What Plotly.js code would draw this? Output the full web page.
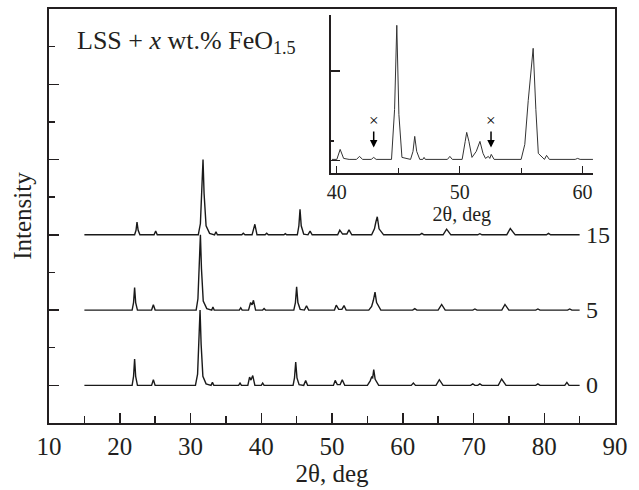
<!DOCTYPE html>
<html>
<head>
<meta charset="utf-8">
<script src="https://cdn.plot.ly/plotly-3.0.1.min.js"></script>
<style>html,body{margin:0;padding:0;background:#fff;}#chart{width:639px;height:490px;}</style>
</head>
<body>
<div id="chart"></div>
<script>
// ---- Main patterns (relative intensity, each normalised to its strongest peak) ----
const curveLabels = ["0", "5", "15"];
const curveOffsets = [0, 1, 2];

const x0 = [15, 21.75, 21.95, 22.1, 22.25, 22.5, 24.5, 24.75, 25.0,
  30.7, 31.0, 31.2, 31.35, 31.5, 31.75, 32.2, 32.9, 33.1, 33.3,
  36.8, 37.0, 37.2, 38.1, 38.35, 38.55, 38.8, 39.1, 40.0, 40.2, 40.4,
  44.5, 44.7, 44.87, 45.05, 45.35, 46.0, 46.28, 46.55,
  50.2, 50.45, 50.75, 51.15, 51.45, 51.8,
  55.0, 55.4, 55.6, 55.75, 55.9, 56.1, 56.6,
  61.2, 61.5, 61.8, 64.7, 65.17, 65.7, 69.6, 69.9, 70.2, 70.6, 70.9, 71.2,
  73.5, 73.98, 74.6, 78.8, 79.1, 79.4, 82.9, 83.2, 83.5, 85.0];
const y0 = [0, 0, 0.12, 0.35, 0.12, 0, 0, 0.075, 0,
  0, 0.15, 0.6, 1.0, 0.55, 0.12, 0.02, 0, 0.04, 0,
  0, 0.03, 0, 0, 0.11, 0.07, 0.13, 0, 0, 0.03, 0,
  0, 0.1, 0.31, 0.1, 0.01, 0, 0.066, 0,
  0, 0.066, 0.01, 0.01, 0.075, 0,
  0, 0.06, 0.11, 0.1, 0.21, 0.08, 0,
  0, 0.03, 0, 0, 0.075, 0, 0, 0.02, 0, 0, 0.02, 0,
  0, 0.084, 0, 0, 0.02, 0, 0, 0.04, 0, 0];

const x5 = [15, 21.75, 21.95, 22.1, 22.25, 22.5, 24.5, 24.75, 25.0,
  30.8, 31.05, 31.25, 31.4, 31.55, 31.8, 32.3, 33.0, 33.17, 33.35,
  36.9, 37.1, 37.3, 38.2, 38.5, 38.7, 38.9, 39.2, 40.2, 40.4, 40.6,
  44.6, 44.83, 45.0, 45.18, 45.5, 46.1, 46.4, 46.7,
  50.35, 50.6, 50.95, 51.4, 51.7, 52.0,
  55.2, 55.6, 55.85, 56.08, 56.3, 56.9,
  61.4, 61.7, 62.0, 65.0, 65.5, 66.0, 69.9, 70.2, 70.5,
  74.0, 74.45, 75.0, 78.8, 79.1, 79.4, 83.3, 83.6, 83.9, 85.0];
const y5 = [0, 0, 0.1, 0.3, 0.1, 0, 0, 0.07, 0,
  0, 0.15, 0.6, 1.0, 0.55, 0.12, 0.02, 0, 0.04, 0,
  0, 0.03, 0, 0, 0.1, 0.07, 0.13, 0, 0, 0.02, 0,
  0, 0.1, 0.31, 0.1, 0.01, 0, 0.058, 0,
  0, 0.066, 0.01, 0.01, 0.06, 0,
  0, 0.05, 0.13, 0.24, 0.1, 0,
  0, 0.02, 0, 0, 0.075, 0, 0, 0.015, 0,
  0, 0.075, 0, 0, 0.015, 0, 0, 0.015, 0, 0];

const x15 = [15, 22.1, 22.3, 22.44, 22.6, 22.85, 24.85, 25.08, 25.3,
  31.1, 31.4, 31.6, 31.77, 31.92, 32.2, 32.7, 33.4, 33.6, 33.8,
  37.25, 37.46, 37.7, 38.7, 39.1, 39.4, 40.55, 40.77, 41.0, 43.2, 43.4, 43.6,
  45.1, 45.32, 45.48, 45.65, 46.0, 46.6, 46.9, 47.2,
  50.8, 51.1, 51.5, 52.1, 52.4, 52.8,
  55.6, 56.0, 56.2, 56.4, 56.65, 57.3,
  62.4, 62.7, 63.0, 65.7, 66.2, 66.8, 70.6, 70.9, 71.2,
  74.7, 75.2, 75.9, 80.3, 80.6, 80.9, 85.0];
const y15 = [0, 0, 0.06, 0.17, 0.06, 0, 0, 0.05, 0,
  0, 0.15, 0.6, 1.0, 0.55, 0.12, 0.02, 0, 0.04, 0,
  0, 0.02, 0, 0, 0.14, 0, 0, 0.02, 0, 0, 0.015, 0,
  0, 0.12, 0.34, 0.12, 0.01, 0, 0.05, 0,
  0, 0.062, 0.01, 0.01, 0.066, 0,
  0, 0.08, 0.17, 0.24, 0.08, 0,
  0, 0.02, 0, 0, 0.075, 0, 0, 0.015, 0,
  0, 0.084, 0, 0, 0.02, 0, 0];

// ---- Inset pattern (40-61 deg) ----
const xInset = [39.6, 40.0, 40.27, 40.55, 41.0, 41.6, 41.84, 42.1, 42.8, 43.0, 43.2,
  44.45, 44.7, 44.88, 45.05, 45.3, 46.0, 46.2, 46.34, 46.5, 46.75, 47.0, 47.1, 47.2,
  49.0, 49.2, 49.4, 50.2, 50.45, 50.57, 50.75, 51.0, 51.35, 51.65, 51.9, 52.1,
  52.33, 52.45, 52.57, 52.8, 55.0, 55.3, 55.58, 55.98, 56.2, 56.4, 56.9, 57.07, 57.3,
  59.4, 59.6, 59.8, 60.85];
const yInset = [0, 0, 10, 1, 0, 0, 3, 0, 0, 2, 0,
  0, 50, 134, 45, 2, 0, 8, 23, 8, 0, 0, 2, 0,
  0, 3, 0, 0, 18, 27, 18, 2, 8, 18, 6, 1,
  3, 1, 5, 0, 0, 15, 59, 111, 50, 6, 0, 4, 0,
  0, 1, 0, 0];
const markerPositions = [43.0, 52.55];
const markerLabel = "×";

const serif = "Liberation Serif, Times New Roman, serif";
const ink = "#231f20";
const series = [[x0, y0], [x5, y5], [x15, y15]];

const traces = series.map((s, i) => ({
  x: s[0],
  y: s[1].map(v => v + curveOffsets[i]),
  type: "scatter", mode: "lines",
  line: {color: "#1a1a1a", width: 1.4},
  xaxis: "x", yaxis: "y", hoverinfo: "skip"
}));
traces.push({
  x: xInset, y: yInset, type: "scatter", mode: "lines",
  line: {color: "#333", width: 1},
  xaxis: "x2", yaxis: "y2", hoverinfo: "skip"
});

const annotations = curveLabels.map((t, i) => ({
  x: 85.6, y: curveOffsets[i], xref: "x", yref: "y",
  text: t, showarrow: false, xanchor: "left", yanchor: "middle",
  font: {family: serif, size: 24, color: ink}
}));
annotations.push({
  x: 0.046, y: 0.92, xref: "paper", yref: "paper",
  text: "LSS + <i>x</i> wt.% FeO<sub>1.5</sub>", showarrow: false,
  xanchor: "left", yanchor: "middle",
  font: {family: serif, size: 26, color: ink}
});
markerPositions.forEach(p => {
  annotations.push({
    x: p, y: 12, xref: "x2", yref: "y2", ax: 0, ay: -27,
    text: markerLabel, showarrow: true, arrowhead: 2, arrowsize: 1, arrowwidth: 1.5,
    arrowcolor: "#000", standoff: 0, startstandoff: 0,
    font: {family: serif, size: 17, color: "#000"}
  });
});

const layout = {
  width: 639, height: 490,
  margin: {l: 49, r: 24, t: 9, b: 67},
  paper_bgcolor: "#fff", plot_bgcolor: "rgba(0,0,0,0)",
  showlegend: false,
  font: {family: serif, color: ink},
  xaxis: {
    domain: [0, 1], range: [10, 90], tick0: 10, dtick: 10,
    ticks: "inside", ticklen: 10, tickwidth: 1.5, tickcolor: ink,
    minor: {dtick: 5, ticks: "inside", ticklen: 7, tickwidth: 1.5, tickcolor: ink},
    showline: true, linewidth: 2, linecolor: ink, mirror: true,
    showgrid: false, zeroline: false,
    tickfont: {family: serif, size: 25, color: ink},
    title: {text: "2θ, deg", font: {family: serif, size: 25, color: ink}, standoff: 0}
  },
  yaxis: {
    domain: [0, 1], range: [-0.5, 5], tick0: 0, dtick: 1,
    ticks: "inside", ticklen: 10, tickwidth: 1.5, tickcolor: ink,
    minor: {dtick: 0.5, ticks: "inside", ticklen: 6, tickwidth: 1.5, tickcolor: ink},
    showline: true, linewidth: 2, linecolor: ink, mirror: true,
    showgrid: false, zeroline: false, showticklabels: false,
    title: {text: "Intensity", font: {family: serif, size: 25, color: ink}, standoff: 8}
  },
  xaxis2: {
    domain: [0.4977, 0.9611], anchor: "y2", range: [39.5, 60.85], tick0: 40, dtick: 10,
    ticks: "inside", ticklen: 7, tickwidth: 1.2, tickcolor: ink,
    minor: {dtick: 5, ticks: "inside", ticklen: 5, tickwidth: 1.2, tickcolor: ink},
    showline: true, linewidth: 1.5, linecolor: ink, mirror: false,
    showgrid: false, zeroline: false,
    tickfont: {family: serif, size: 20, color: ink},
    title: {text: "2θ, deg", font: {family: serif, size: 20, color: ink}, standoff: 2}
  },
  yaxis2: {
    domain: [0.6036, 0.9855], anchor: "x2", range: [-13.7, 144.3],
    tickmode: "array", tickvals: [-1.4, 88.3],
    ticks: "inside", ticklen: 9, tickwidth: 1.2, tickcolor: ink,
    minor: {tickmode: "array", tickvals: [18.3], ticks: "inside", ticklen: 3, tickwidth: 1.2, tickcolor: ink},
    showline: true, linewidth: 1.5, linecolor: ink, mirror: false,
    showgrid: false, zeroline: false, showticklabels: false
  },
  annotations: annotations
};

Plotly.newPlot("chart", traces, layout, {displayModeBar: false, staticPlot: true});
</script>
</body>
</html>
